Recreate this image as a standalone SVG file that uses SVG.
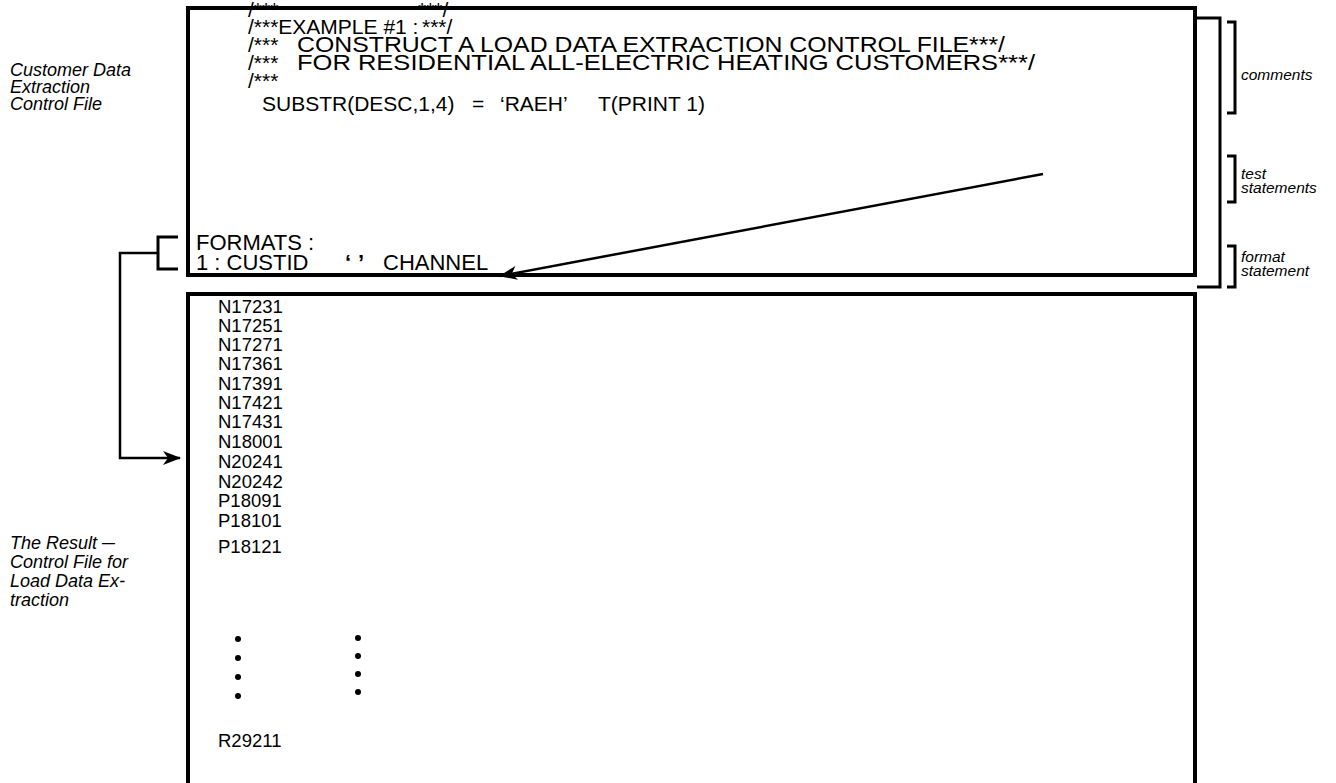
<svg xmlns="http://www.w3.org/2000/svg" width="1336" height="783" viewBox="0 0 1336 783">
<style>
.t{font-family:"Liberation Sans",Arial,sans-serif;font-size:21px;fill:#000}
.w{font-family:"Liberation Sans",Arial,sans-serif;font-size:22.5px;fill:#000}
.f{font-family:"Liberation Sans",Arial,sans-serif;font-size:22px;fill:#000}
.l{font-family:"Liberation Sans",Arial,sans-serif;font-size:18.5px;fill:#000}
.lab{font-family:"Liberation Sans",Arial,sans-serif;font-size:18px;font-style:italic;fill:#000}
.sl{font-family:"Liberation Sans",Arial,sans-serif;font-size:15.5px;font-style:italic;fill:#000}
.box{fill:none;stroke:#000;stroke-width:4}
.br{fill:none;stroke:#000;stroke-width:3}
.ln{fill:none;stroke:#000;stroke-width:2.5}
</style>
<defs>
<marker id="ah" markerWidth="18" markerHeight="14" refX="17" refY="7" orient="auto" markerUnits="userSpaceOnUse" viewBox="0 0 18 14">
<path d="M0,0 L18,7 L0,14 L5,7 Z" fill="#000"/>
</marker>
</defs>
<rect width="1336" height="783" fill="#fff"/>

<g id="labels-left">
<text class="lab" x="10" y="76">Customer Data</text>
<text class="lab" x="10" y="93">Extraction</text>
<text class="lab" x="10" y="110">Control File</text>
<text class="lab" x="10" y="549">The Result ─</text>
<text class="lab" x="10" y="568">Control File for</text>
<text class="lab" x="10" y="587">Load Data Ex-</text>
<text class="lab" x="10" y="606">traction</text>
</g>

<g id="control-file">
<text class="t" x="248" y="17">/***</text>
<text class="t" x="418" y="17">***/</text>
<text class="t" x="248" y="34" font-size="20">/***EXAMPLE #1 :</text>
<text class="t" x="422" y="34">***/</text>
<text class="t" x="248" y="52">/***</text>
<text class="w" x="297" y="52" textLength="708" lengthAdjust="spacingAndGlyphs">CONSTRUCT A LOAD DATA EXTRACTION CONTROL FILE***/</text>
<text class="t" x="248" y="70">/***</text>
<text class="w" x="297" y="70" textLength="738" lengthAdjust="spacingAndGlyphs">FOR RESIDENTIAL ALL-ELECTRIC HEATING CUSTOMERS***/</text>
<text class="t" x="248" y="88">/***</text>
<text class="t" x="262" y="111">SUBSTR(DESC,1,4)</text>
<text class="t" x="472" y="111">=</text>
<text class="t" x="500" y="111">‘RAEH’</text>
<text class="t" x="598" y="111">T(PRINT 1)</text>
<text class="f" x="196" y="250">FORMATS :</text>
<text class="f" x="196" y="270">1 : CUSTID</text>
<text class="f" x="345" y="270" font-weight="bold">‘</text>
<text class="f" x="358" y="270" font-weight="bold">’</text>
<text class="f" x="383" y="270">CHANNEL</text>
<rect class="box" x="188" y="8" width="1007" height="267"/>
</g>

<g id="result-file">
<rect class="box" x="188" y="294" width="1007" height="520"/>
<text class="l" x="218" y="313">N17231</text>
<text class="l" x="218" y="332">N17251</text>
<text class="l" x="218" y="351">N17271</text>
<text class="l" x="218" y="370">N17361</text>
<text class="l" x="218" y="390">N17391</text>
<text class="l" x="218" y="409">N17421</text>
<text class="l" x="218" y="428">N17431</text>
<text class="l" x="218" y="448">N18001</text>
<text class="l" x="218" y="468">N20241</text>
<text class="l" x="218" y="488">N20242</text>
<text class="l" x="218" y="507">P18091</text>
<text class="l" x="218" y="527">P18101</text>
<text class="l" x="218" y="553">P18121</text>
<text class="l" x="218" y="747">R29211</text>
<g fill="#000">
<circle cx="238" cy="639" r="3"/>
<circle cx="238" cy="658" r="3"/>
<circle cx="238" cy="677" r="3"/>
<circle cx="238" cy="696" r="3"/>
<circle cx="358" cy="638" r="3"/>
<circle cx="358" cy="656" r="3"/>
<circle cx="358" cy="674" r="3"/>
<circle cx="358" cy="692" r="3"/>
</g>
</g>

<g id="brackets">
<polyline class="br" points="1197,18 1220,18 1220,287 1197,287"/>
<polyline class="br" points="1227,22 1235,22 1235,113 1227,113"/>
<polyline class="br" points="1227,156 1235,156 1235,202 1227,202"/>
<polyline class="br" points="1227,246 1235,246 1235,287 1227,287"/>
<polyline class="br" points="178,237 158,237 158,269 178,269"/>
</g>

<g id="bracket-labels">
<text class="sl" x="1241" y="80">comments</text>
<text class="sl" x="1241" y="179">test</text>
<text class="sl" x="1241" y="193">statements</text>
<text class="sl" x="1241" y="262">format</text>
<text class="sl" x="1241" y="276">statement</text>
</g>

<g id="connectors">
<line class="ln" x1="1043" y1="174" x2="500" y2="276" marker-end="url(#ah)"/>
<polyline class="ln" points="158,253 120,253 120,458 180,458" marker-end="url(#ah)"/>
</g>
</svg>
